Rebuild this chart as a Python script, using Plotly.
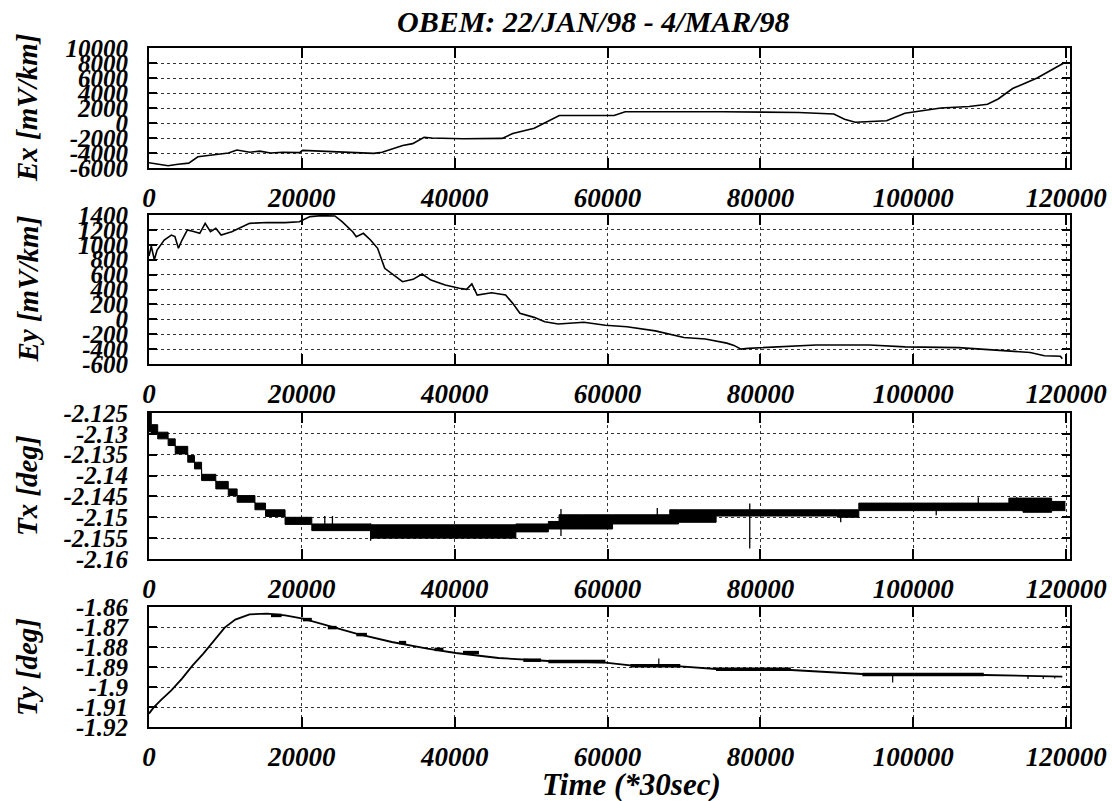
import plotly.graph_objects as go

# ---------------- data ----------------
time_ticks = [0, 20000, 40000, 60000, 80000, 100000, 120000]

ex_time = [0, 1200, 2500, 3800, 5200, 6400, 8500, 10400, 11500, 13200,
           14500, 15900, 17500, 19700, 20100, 22000, 25200, 27500, 29400, 30500,
           31300, 32200, 33200, 34500, 35300, 36000, 37000, 41100, 46200, 47600,
           50400, 52250, 53680, 60850, 62300, 75000, 85000, 89600, 91000, 92400,
           94500, 96500, 98900, 103600, 107300, 109700, 111100, 113000, 116200, 118600,
           119700]
ex_value = [-5300, -5450, -5700, -5500, -5350, -4500, -4200, -4000, -3600, -3900,
            -3750, -4000, -3900, -3950, -3650, -3750, -3850, -4000, -4050, -3900,
            -3650, -3300, -3000, -2750, -2300, -1900, -2000, -2100, -2050, -1400,
            -700, 200, 1000, 1000, 1500, 1500, 1400, 1200, 500, 100,
            200, 300, 1300, 2000, 2200, 2500, 3200, 4600, 6000, 7300,
            8000]

ey_time = [0, 300, 700, 1060, 1990, 2920, 3390, 3850, 4320, 5020,
           5950, 6640, 7350, 8040, 8740, 9440, 10830, 13160, 15490, 17810,
           19670, 21070, 22460, 24320, 25260, 26650, 27120, 28050, 28980, 29910,
           30840, 31770, 33170, 34560, 35730, 36890, 38750, 40610, 41550, 42240,
           42940, 44810, 46660, 47590, 48530, 50380, 51780, 53540, 56910, 59710,
           62530, 66250, 69990, 72790, 75600, 76530, 77460, 78400, 80260, 84930,
           87270, 94270, 98940, 105950, 110620, 115290, 117150, 119250, 119490]
ey_value = [850, 980, 800, 930, 1064, 1130, 1110, 953, 1064, 1199,
            1176, 1154, 1288, 1176, 1221, 1131, 1176, 1288, 1300, 1297,
            1310, 1378, 1391, 1387, 1310, 1176, 1109, 1154, 1064, 953,
            684, 617, 505, 536, 608, 527, 460, 416, 402, 474,
            326, 357, 326, 214, 80, 26, -32, -63, -40, -80,
            -100, -155, -245, -265, -320, -350, -400, -390, -380, -360,
            -345, -345, -370, -380, -410, -445, -490, -495, -530]

# Tx: quantised signal drawn as a band (upper / lower level) plus isolated spikes
tx_time = [0, 300, 1140, 2500, 3430, 5070, 5950, 6880, 8740, 10370,
           11530, 13860, 15250, 17800, 21300, 29000, 48000, 52250, 53650, 56680,
           60650, 68130, 69290, 74200, 90070, 92870, 112500, 114350, 118100, 119900]
tx_upper = [-2.1250, -2.1278, -2.1296, -2.1312, -2.1330, -2.1352, -2.1368, -2.1397, -2.1414, -2.1432,
            -2.1448, -2.1466, -2.1482, -2.1500, -2.1516, -2.1518, -2.1516, -2.1510, -2.1494, -2.1494,
            -2.1494, -2.1482, -2.1482, -2.1482, -2.1482, -2.1466, -2.1454, -2.1454, -2.1462, -2.1462]
tx_lower = [-2.1295, -2.1298, -2.1312, -2.1328, -2.1348, -2.1368, -2.1384, -2.1412, -2.1432, -2.1448,
            -2.1464, -2.1482, -2.1498, -2.1517, -2.1532, -2.1550, -2.1535, -2.1528, -2.1528, -2.1528,
            -2.1516, -2.1516, -2.1512, -2.1497, -2.1500, -2.1484, -2.1484, -2.1488, -2.1484, -2.1484]
tx_spike_time = [23000, 24000, 29000, 53900, 66500, 78600, 90500, 103000, 108500, 113500]
tx_spike_top = [-2.1497, -2.1497, -2.1515, -2.1480, -2.1478, -2.1467, -2.1482, -2.1481, -2.1452, -2.1452]
tx_spike_bottom = [-2.1516, -2.1520, -2.1556, -2.1545, -2.1495, -2.1575, -2.1512, -2.1495, -2.1466, -2.1470]

ty_time = [0, 590, 1520, 2920, 4320, 5710, 7110, 8500, 9900, 11290,
           13160, 15490, 17810, 20140, 22460, 24790, 27120, 31770, 36430, 40150,
           45730, 52250, 59710, 62980, 69510, 74180, 84000, 93330, 109220, 119490]
ty_value = [-1.9133, -1.9103, -1.9067, -1.9017, -1.8958, -1.8892, -1.8833, -1.8767, -1.8703, -1.8663,
            -1.8637, -1.8633, -1.8642, -1.8658, -1.8683, -1.8708, -1.8733, -1.8775, -1.8808, -1.8830,
            -1.8855, -1.8870, -1.8878, -1.8892, -1.8897, -1.8910, -1.8915, -1.8935, -1.8940, -1.8948]
ty_block_start = [15960, 20140, 23400, 27120, 32700, 37360, 41080, 48980, 52250, 62980, 74180, 93330]
ty_block_end = [17350, 21300, 24550, 28510, 33640, 38520, 43170, 51300, 59710, 69510, 83980, 109220]
ty_block_level = [-1.8642, -1.8663, -1.8703, -1.8738, -1.8778, -1.8812, -1.8828, -1.8866, -1.8872, -1.8894, -1.8911, -1.8937]
ty_spike_time = [66700, 97300, 115000, 117000, 118500]
ty_spike_top = [-1.8858, -1.8933, -1.8945, -1.8945, -1.8945]
ty_spike_bottom = [-1.8903, -1.8978, -1.8960, -1.8960, -1.8958]

ex_ticks = [-6000, -4000, -2000, 0, 2000, 4000, 6000, 8000, 10000]
ey_ticks = [-600, -400, -200, 0, 200, 400, 600, 800, 1000, 1200, 1400]
tx_ticks = [-2.16, -2.155, -2.15, -2.145, -2.14, -2.135, -2.13, -2.125]
tx_tick_text = ["-2.16", "-2.155", "-2.15", "-2.145", "-2.14", "-2.135", "-2.13", "-2.125"]
ty_ticks = [-1.92, -1.91, -1.9, -1.89, -1.88, -1.87, -1.86]
ty_tick_text = ["-1.92", "-1.91", "-1.9", "-1.89", "-1.88", "-1.87", "-1.86"]

title_text = "OBEM: 22/JAN/98 - 4/MAR/98"
x_title = "Time (*30sec)"
y_titles = ["Ex [mV/km]", "Ey [mV/km]", "Tx [deg]", "Ty [deg]"]

# ---------------- layout geometry (pixels) ----------------
W, H = 1112, 801
LEFT, RIGHT = 149, 1070
PANELS = [(48, 168), (215, 364), (413, 559), (607, 727)]


def ypaper(py):
    return 1 - py / H


def xpaper(px):
    return (px - LEFT) / (RIGHT - LEFT)


FONT = "Liberation Serif"
XTICK_FONT = dict(family=FONT, size=27, color="black", weight="bold", style="italic")
YTICK_FONT = dict(family=FONT, size=25, color="black", weight="bold", style="italic")
TITLE_FONT = dict(family=FONT, size=30, color="black", weight="bold", style="italic")
XLABEL_FONT = dict(family=FONT, size=31, color="black", weight="bold", style="italic")
YLABEL_FONT = dict(family=FONT, size=29, color="black", weight="bold", style="italic")

fig = go.Figure()

LINE = dict(color="black", width=1.6)

# Ex
fig.add_trace(go.Scatter(x=ex_time, y=ex_value, mode="lines", line=LINE, xaxis="x", yaxis="y"))
# Ey
fig.add_trace(go.Scatter(x=ey_time, y=ey_value, mode="lines", line=LINE, xaxis="x2", yaxis="y2"))
# Tx band
fig.add_trace(go.Scatter(x=tx_time, y=tx_lower, mode="lines", line=dict(color="black", width=1, shape="hv"),
                         xaxis="x3", yaxis="y3"))
fig.add_trace(go.Scatter(x=tx_time, y=tx_upper, mode="lines", line=dict(color="black", width=1, shape="hv"),
                         fill="tonexty", fillcolor="black", xaxis="x3", yaxis="y3"))
sx, sy = [], []
for t, a, b in zip(tx_spike_time, tx_spike_top, tx_spike_bottom):
    sx += [t, t, None]
    sy += [a, b, None]
fig.add_trace(go.Scatter(x=sx, y=sy, mode="lines", line=dict(color="black", width=1.3),
                         xaxis="x3", yaxis="y3"))
# Ty
fig.add_trace(go.Scatter(x=ty_time, y=ty_value, mode="lines", line=dict(color="black", width=1.8),
                         xaxis="x4", yaxis="y4"))
bx, by = [], []
for a, b, v in zip(ty_block_start, ty_block_end, ty_block_level):
    bx += [a, b, None]
    by += [v, v, None]
fig.add_trace(go.Scatter(x=bx, y=by, mode="lines", line=dict(color="black", width=3.5),
                         xaxis="x4", yaxis="y4"))
sx, sy = [], []
for t, a, b in zip(ty_spike_time, ty_spike_top, ty_spike_bottom):
    sx += [t, t, None]
    sy += [a, b, None]
fig.add_trace(go.Scatter(x=sx, y=sy, mode="lines", line=dict(color="black", width=1.2),
                         xaxis="x4", yaxis="y4"))

common = dict(showline=True, linewidth=2, linecolor="black", mirror="ticks",
              ticks="inside", tickwidth=2, tickcolor="black",
              showgrid=True, gridcolor="#333333", griddash="dot", gridwidth=1,
              zeroline=False, automargin=False)

y_specs = [
    (ex_ticks, [str(v) for v in ex_ticks], [-6000, 10000]),
    (ey_ticks, [str(v) for v in ey_ticks], [-600, 1400]),
    (tx_ticks, tx_tick_text, [-2.16, -2.125]),
    (ty_ticks, ty_tick_text, [-1.92, -1.86]),
]

layout = dict(width=W, height=H, margin=dict(l=LEFT, r=W - RIGHT, t=0, b=0),
              paper_bgcolor="white", plot_bgcolor="white", showlegend=False)

for i, ((top, bot), (tv, tt, rng)) in enumerate(zip(PANELS, y_specs)):
    n = "" if i == 0 else str(i + 1)
    layout["xaxis" + n] = dict(common, domain=[0, 1], anchor="y" + n, range=[0, 120500],
                               tickvals=time_ticks, ticktext=[str(v) for v in time_ticks],
                               ticklen=10, tickfont=XTICK_FONT, ticklabelstandoff=5)
    layout["yaxis" + n] = dict(common, domain=[ypaper(bot), ypaper(top)], anchor="x" + n,
                               range=rng, tickvals=tv, ticktext=tt, ticklen=8,
                               tickfont=YTICK_FONT, ticklabelstandoff=14)

annotations = [
    dict(text=title_text, x=xpaper(593), y=ypaper(22), xref="paper", yref="paper",
         showarrow=False, xanchor="center", yanchor="middle", font=TITLE_FONT),
    dict(text=x_title, x=xpaper(631), y=ypaper(784), xref="paper", yref="paper",
         showarrow=False, xanchor="center", yanchor="middle", font=XLABEL_FONT),
]
for (top, bot), t in zip(PANELS, y_titles):
    annotations.append(dict(text=t, x=xpaper(27), y=ypaper((top + bot) / 2), xref="paper", yref="paper",
                            showarrow=False, xanchor="center", yanchor="middle", textangle=-90,
                            font=YLABEL_FONT))
layout["annotations"] = annotations

fig.update_layout(**layout)
fig.write_html("out.html", config={"displayModeBar": False})
